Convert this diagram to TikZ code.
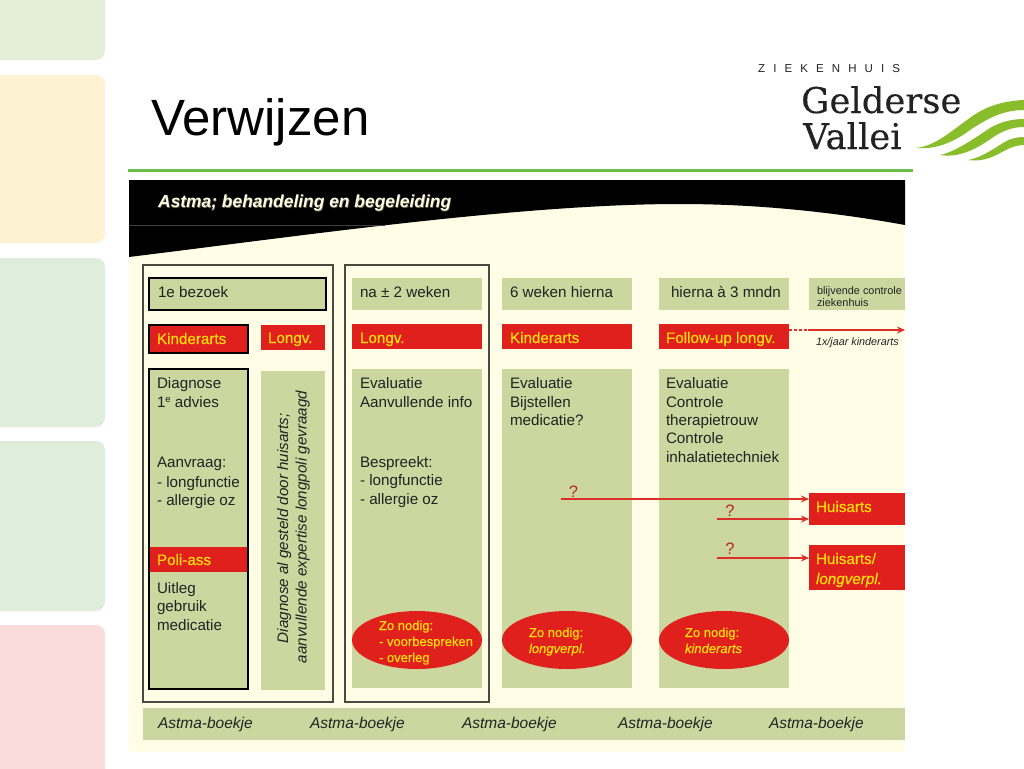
\documentclass[tikz,border=0pt]{standalone}
\usepackage{fontspec}
\setmainfont{Liberation Sans}
\newfontfamily\logoserif[FakeBold=0.25]{DejaVu Serif}
\newfontfamily\ylwfont[FakeBold=0.5]{Liberation Sans}
\usetikzlibrary{shapes.geometric,arrows.meta}
\definecolor{pagegreenA}{HTML}{E4EFD9}
\definecolor{pageyellow}{HTML}{FDF2D2}
\definecolor{pagegreenB}{HTML}{DFEEDB}
\definecolor{pagepink}{HTML}{FADCDC}
\definecolor{rulegreen}{HTML}{68BE47}
\definecolor{wavegreen}{HTML}{8ABD2C}
\definecolor{cream}{HTML}{FFFDE6}
\definecolor{sage}{HTML}{CCD79F}
\definecolor{redbox}{HTML}{E0201C}
\definecolor{yel}{HTML}{FFDC0A}
\definecolor{arrowred}{HTML}{DD2E2A}
\definecolor{ink}{HTML}{222222}
\definecolor{framegray}{HTML}{4A4A40}
\newcommand{\fs}[1]{\fontsize{#1}{#1}\selectfont}
% name, style, x1, y1, x2, y2
\newcommand{\bx}[6]{%
  \pgfmathsetmacro{\cxx}{(#3+#5)/2}\pgfmathsetmacro{\cyy}{(#4+#6)/2}%
  \pgfmathsetmacro{\wdd}{#5-#3}\pgfmathsetmacro{\htt}{#6-#4}%
  \node[#2,minimum width=\wdd pt,minimum height=\htt pt] (#1) at (\cxx,\cyy) {};}
\tikzset{
  x=1pt,y=-1pt,
  box/.style={rectangle,inner sep=0pt,outer sep=0pt},
  sagebox/.style={box,fill=sage},
  sagebold/.style={box,fill=sage,draw=black,line width=2pt},
  redb/.style={box,fill=redbox},
  redbold/.style={box,fill=redbox,draw=black,line width=2pt},
  frm/.style={box,draw=framegray,line width=1.1pt},
  oval/.style={ellipse,inner sep=0pt,outer sep=0pt,fill=redbox},
  txt/.style={anchor=base west,inner sep=0pt,outer sep=0pt,text=ink,font=\fs{15.2}},
  ylw/.style={anchor=base west,inner sep=0pt,outer sep=0pt,text=yel,font=\ylwfont\fs{15.2}},
  ylws/.style={ylw,font=\ylwfont\fs{13}},
  boek/.style={txt,font=\fs{15.5}\itshape},
  qm/.style={anchor=base,inner sep=0pt,outer sep=0pt,text=arrowred!85!black,font=\fs{16.5}},
  arr/.style={draw=arrowred,line width=1.8pt,-{Stealth[length=8pt,width=7pt]}},
  side/.style={fill=#1,rounded corners=9pt,draw=none},
}
\begin{document}
\begin{tikzpicture}
\clip (0,0) rectangle (1024,768);
\fill[white] (0,0) rectangle (1024,768);
% side panels
\fill[side=pagegreenA] (-20,-20) rectangle (105,60);
\fill[side=pageyellow] (-20,75) rectangle (105,243);
\fill[side=pagegreenB] (-20,258) rectangle (105,427);
\fill[side=pagegreenB] (-20,441) rectangle (105,611);
\fill[side=pagepink] (-20,625) rectangle (105,800);
% title
\node[anchor=base west,inner sep=0pt,font=\fs{51}] (title) at (151,135) {Verwijzen};
\draw[rulegreen,line width=3.4pt] (128,170.5) -- (913,170.5);
% logo
\node[anchor=base west,inner sep=0pt,text=ink,font=\fs{11.5}] (zk) at (758,72.5) {Z\hspace{8.1pt}I\hspace{8.1pt}E\hspace{8.1pt}K\hspace{8.1pt}E\hspace{8.1pt}N\hspace{8.1pt}H\hspace{8.1pt}U\hspace{8.1pt}I\hspace{8.1pt}S};
\node[anchor=base west,inner sep=0pt,text=ink,font=\logoserif\fs{35.4}] (g) at (801,113) {Gelderse};
\node[anchor=base west,inner sep=0pt,text=ink,font=\logoserif\fs{35.4}] (v) at (803,149) {Vallei};
\fill[wavegreen] (916,148) .. controls (935,146) and (950,132) .. (967,120) .. controls (982,108) and (1000,101) .. (1024,100) -- (1024,110) .. controls (1005,110) and (990,117) .. (973,128) .. controls (958,139) and (940,150) .. (916,148) -- cycle;
\fill[wavegreen] (940,155) .. controls (955,152) and (975,138) .. (990,128) .. controls (1000,122) and (1012,119) .. (1024,119) -- (1024,127) .. controls (1012,127) and (1002,131) .. (992,138) .. controls (975,150) and (958,158) .. (940,155) -- cycle;
\fill[wavegreen] (968,160) .. controls (980,158) and (992,150) .. (1003,143) .. controls (1009,139) and (1016,137) .. (1024,137) -- (1024,145) .. controls (1015,145) and (1008,149) .. (1002,152) .. controls (992,158) and (980,162) .. (968,160) -- cycle;
% chart background
\fill[cream] (129,180) rectangle (905,752);
\fill[black] (129,180) -- (905,180) -- (905,225) .. controls (850,215) and (770,204) .. (680,204) .. controls (520,204) and (300,236) .. (129,257) -- cycle;
\draw[black!75,line width=.5pt] (129,225.3) -- (385,225.3);
\node[anchor=base west,inner sep=0pt,text=black!70!yellow,font=\fs{17.4}\bfseries\itshape] (hdrs) at (158.6,208) {Astma; behandeling en begeleiding};
\node[anchor=base west,inner sep=0pt,text=cream,font=\fs{17.4}\bfseries\itshape] (hdr) at (158,207.5) {Astma; behandeling en begeleiding};
% frames
\bx{fr1}{frm}{143}{265}{333}{702}
\bx{fr2}{frm}{345}{265}{489}{702}
% column 1
\bx{b1}{sagebold}{149}{278}{326}{310}
\node[txt] (t1) at (158,297) {1e bezoek};
\bx{k1}{redbold}{149}{325}{248}{353}
\node[ylw] (t2) at (157,344) {Kinderarts};
\bx{l1}{redb}{261}{325}{325}{350}
\node[ylw] (t3) at (268,343) {Longv.};
\bx{d1}{sagebold}{149}{369}{248}{689}
\node[txt] (t4a) at (157,388) {Diagnose};
\node[txt] (t4b) at (157,407) {1\raisebox{5pt}{\fs{9.5}e} advies};
\node[txt] (t4c) at (157,467) {Aanvraag:};
\node[txt] (t4d) at (157,487) {- longfunctie};
\node[txt] (t4e) at (157,505) {- allergie oz};
\bx{p1}{redb}{150}{547}{247}{572}
\node[ylw] (t5) at (157,565) {Poli-ass};
\node[txt] (t6a) at (157,593) {Uitleg};
\node[txt] (t6b) at (157,611) {gebruik};
\node[txt] (t6c) at (157,630) {medicatie};
\bx{v1}{sagebox}{261}{371}{325}{690}
\node[txt,rotate=90,font=\fs{15.2}\itshape] (t7a) at (288,643) {Diagnose al gesteld door huisarts;};
\node[txt,rotate=90,font=\fs{15.2}\itshape] (t7b) at (306.5,663) {aanvullende expertise longpoli gevraagd};
% column 2
\bx{b2}{sagebox}{352}{278}{482}{310}
\node[txt] (t8) at (360,297) {na ± 2 weken};
\bx{l2}{redb}{352}{324}{482}{349}
\node[ylw] (t9) at (360,343) {Longv.};
\bx{d2}{sagebox}{352}{369}{482}{688}
\node[txt] (t10a) at (360,388) {Evaluatie};
\node[txt] (t10b) at (360,407) {Aanvullende info};
\node[txt] (t10c) at (360,467) {Bespreekt:};
\node[txt] (t10d) at (360,485) {- longfunctie};
\node[txt] (t10e) at (360,504) {- allergie oz};
\node[oval,minimum width=130pt,minimum height=58pt] (o2) at (417,640) {};
\node[ylws] (t11a) at (379,630) {Zo nodig:};
\node[ylws] (t11b) at (379,646) {- voorbespreken};
\node[ylws] (t11c) at (379,662) {- overleg};
% column 3
\bx{b3}{sagebox}{502}{278}{632}{310}
\node[txt] (t12) at (510,297) {6 weken hierna};
\bx{k3}{redb}{502}{324}{632}{349}
\node[ylw] (t13) at (510,343) {Kinderarts};
\bx{d3}{sagebox}{502}{369}{632}{688}
\node[txt] (t14a) at (510,388) {Evaluatie};
\node[txt] (t14b) at (510,407) {Bijstellen};
\node[txt] (t14c) at (510,425) {medicatie?};
\node[oval,minimum width=130pt,minimum height=58pt] (o3) at (567,640) {};
\node[ylws] (t15a) at (529,637) {Zo nodig:};
\node[ylws,font=\ylwfont\fs{13}\itshape] (t15b) at (529,653) {longverpl.};
% column 4
\bx{b4}{sagebox}{659}{278}{789}{310}
\node[txt] (t16) at (671,297) {hierna à 3 mndn};
\bx{f4}{redb}{659}{324}{789}{349}
\node[ylw] (t17) at (666,343) {Follow-up longv.};
\bx{d4}{sagebox}{659}{369}{789}{688}
\node[txt] (t18a) at (666,388) {Evaluatie};
\node[txt] (t18b) at (666,407) {Controle};
\node[txt] (t18c) at (666,425) {therapietrouw};
\node[txt] (t18d) at (666,443) {Controle};
\node[txt] (t18e) at (666,462) {inhalatietechniek};
\node[oval,minimum width=130pt,minimum height=58pt] (o4) at (724,640) {};
\node[ylws] (t19a) at (685,637) {Zo nodig:};
\node[ylws,font=\ylwfont\fs{13}\itshape] (t19b) at (685,653) {kinderarts};
% column 5
\bx{b5}{sagebox}{809}{278}{905}{310}
\node[txt,font=\fs{10.9}] (t20a) at (817,294) {blijvende controle};
\node[txt,font=\fs{10.9}] (t20b) at (817,306) {ziekenhuis};
\coordinate (dotend) at (808,330);
\coordinate (solidend) at (905,330);
\draw[arrowred,line width=1.8pt,dash pattern=on 2.5pt off 2.5pt] (f4.east |- dotend) -- (dotend);
\draw[arr] (dotend) -- (solidend);
\node[txt,font=\fs{10.8}\itshape] (t21) at (816,345) {1x/jaar kinderarts};
\bx{h1}{redb}{809}{493}{905}{525}
\node[ylw] (t22) at (816,512) {Huisarts};
\bx{h2}{redb}{809}{545}{905}{590}
\node[ylw] (t23a) at (816,564) {Huisarts/};
\node[ylw,font=\ylwfont\fs{15.2}\itshape] (t23b) at (816,584) {longverpl.};
% arrows
\coordinate (a1) at (561,499);
\coordinate (a2) at (717,519);
\coordinate (a3) at (717,558);
\draw[arr] (a1) -- (a1 -| h1.west);
\draw[arr] (a2) -- (a2 -| h1.west);
\draw[arr] (a3) -- (a3 -| h2.west);
\node[qm] (q1) at (573.5,497) {?};
\node[qm] (q2) at (730,516) {?};
\node[qm] (q3) at (730,554) {?};
% bottom band
\bx{band}{sagebox}{143}{708}{905}{740}
\node[boek] (bk1) at (158,728) {Astma-boekje};
\node[boek] (bk2) at (310,728) {Astma-boekje};
\node[boek] (bk3) at (462,728) {Astma-boekje};
\node[boek] (bk4) at (618,728) {Astma-boekje};
\node[boek] (bk5) at (769,728) {Astma-boekje};
\end{tikzpicture}
\end{document}
